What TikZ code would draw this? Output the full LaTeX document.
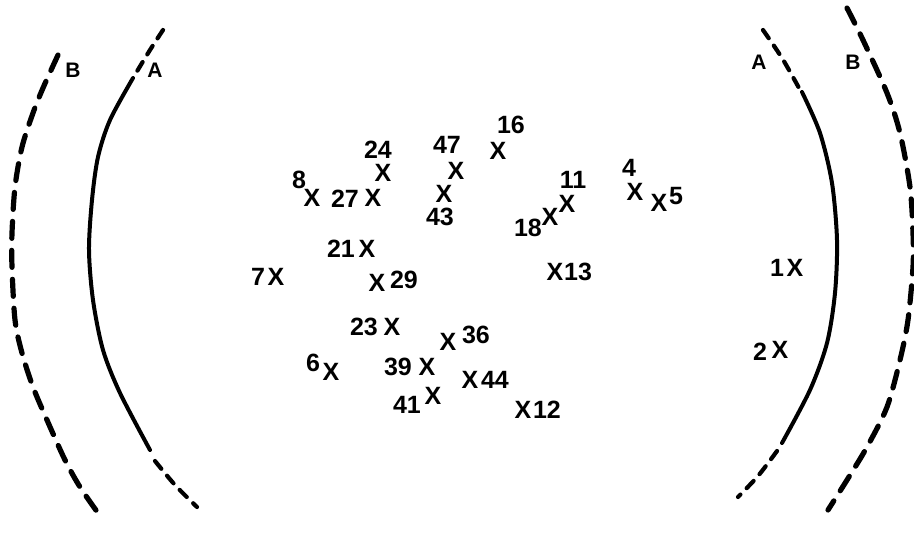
\documentclass[tikz,border=0pt]{standalone}
\usepackage{fontspec}
\setmainfont{Liberation Sans}
\usetikzlibrary{positioning}
\tikzset{
  xmark/.style={font=\bfseries\fontsize{25}{25}\selectfont, inner sep=0pt},
  num/.style={font=\bfseries\fontsize{25}{25}\selectfont, inner sep=0pt},
  arclbl/.style={font=\bfseries\fontsize{21}{21}\selectfont, inner sep=0pt},
  arcsolid/.style={line width=4pt, line cap=round},
  arcdashA/.style={line width=4.2pt, line cap=round, dash pattern=on 10pt off 9pt},
  arcdashB/.style={line width=5.2pt, line cap=round, dash pattern=on 17pt off 12pt},
}
\begin{document}
\begin{tikzpicture}[x=1pt, y=-1pt]
  \useasboundingbox (0,0) rectangle (914,538);
  % left boundaries
  \draw[arcdashB] plot[smooth] coordinates {(58,55) (43,88) (33,113) (22,147) (15,187) (12,233) (12,267) (15,320) (22,353) (33,387) (47,420) (65,460) (80,487) (98,513)};
  \draw[arcdashA] plot[smooth] coordinates {(163,30) (150,50) (136,73)};
  \draw[arcsolid] plot[smooth] coordinates {(133,78) (110,120) (98,157) (92,200) (89,250) (93,300) (103,350) (120,393) (150,450)};
  \draw[arcdashA] plot[smooth] coordinates {(155,461) (175,485) (197,507)};
  \node[arclbl] (lb) at (73,70) {B};
  \node[arclbl] (la) at (155,70) {A};
  % right boundaries
  \draw[arcdashA] plot[smooth] coordinates {(763,30) (782,58) (799,88)};
  \draw[arcsolid] plot[smooth] coordinates {(802,92) (820,133) (832,183) (837,240) (835,293) (827,343) (810,390) (782,443)};
  \draw[arcdashA] plot[smooth] coordinates {(777,451) (758,476) (738,497)};
  \draw[arcdashB] plot[smooth] coordinates {(847,8) (863,40) (887,93) (900,133) (910,187) (913,233) (913,267) (908,320) (900,360) (887,407) (867,447) (847,480) (828,510)};
  \node[arclbl] (ra) at (759,62) {A};
  \node[arclbl] (rb) at (853,62) {B};
  % points
  \node[xmark] (x24) at (383,173) {X};  \node[num] (n24) at (378,150) {24};
  \node[xmark] (x8)  at (312,198) {X};  \node[num] (n8)  at (299,180) {8};
  \node[xmark] (x27) at (373,198) {X};  \node[num] (n27) at (345,199) {27};
  \node[xmark] (x47) at (456,171) {X};  \node[num] (n47) at (447,145) {47};
  \node[xmark] (x43) at (444,194) {X};  \node[num] (n43) at (440,217) {43};
  \node[xmark] (x16) at (498,151) {X};  \node[num] (n16) at (511,125) {16};
  \node[xmark] (x11) at (567,204) {X};  \node[num] (n11) at (573,180) {11};
  \node[xmark] (x18) at (550,217) {X};  \node[num] (n18) at (528,228) {18};
  \node[xmark] (x4)  at (635,192) {X};  \node[num] (n4)  at (629,168) {4};
  \node[xmark] (x5)  at (659,203) {X};  \node[num] (n5)  at (676,196) {5};
  \node[xmark] (x21) at (367,249) {X};  \node[num] (n21) at (341,249) {21};
  \node[xmark] (x7)  at (276,277) {X};  \node[num] (n7)  at (258,277) {7};
  \node[xmark] (x29) at (377,283) {X};  \node[num] (n29) at (404,280) {29};
  \node[xmark] (x13) at (555,272) {X};  \node[num] (n13) at (578,272) {13};
  \node[xmark] (x1)  at (795,268) {X};  \node[num] (n1)  at (777,268) {1};
  \node[xmark] (x23) at (392,327) {X};  \node[num] (n23) at (364,327) {23};
  \node[xmark] (x36) at (448,342) {X};  \node[num] (n36) at (476,335) {36};
  \node[xmark] (x6)  at (331,372) {X};  \node[num] (n6)  at (313,363) {6};
  \node[xmark] (x39) at (427,367) {X};  \node[num] (n39) at (398,367) {39};
  \node[xmark] (x41) at (433,396) {X};  \node[num] (n41) at (407,405) {41};
  \node[xmark] (x44) at (470,380) {X};  \node[num] (n44) at (495,380) {44};
  \node[xmark] (x12) at (523,410) {X};  \node[num] (n12) at (547,410) {12};
  \node[xmark] (x2)  at (780,350) {X};  \node[num] (n2)  at (760,352) {2};
\end{tikzpicture}
\end{document}
